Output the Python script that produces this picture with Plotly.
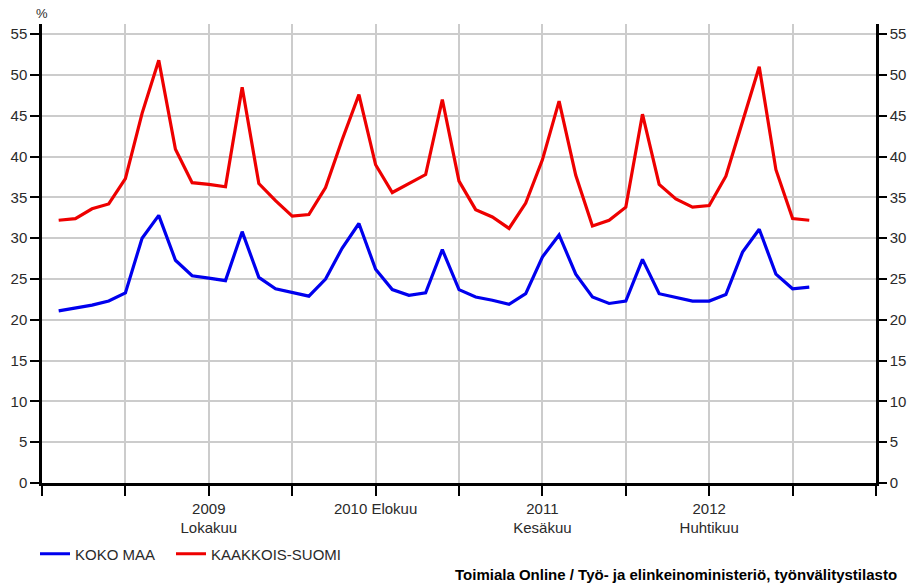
import plotly.graph_objects as go

# Months Jan 2009 .. Oct 2012 (axis slot 1..46; slot 0 = Dec 2008)
months = [f"{y}-{m:02d}" for y in range(2009, 2013) for m in range(1, 13)][:46]
month_pos = list(range(1, 47))

koko_maa = [21.1, 21.5, 21.8, 22.3, 23.3, 30.0, 32.8, 27.3, 25.4, 25.1, 24.8, 30.8,
            25.2, 23.8, 23.3, 22.9, 25.0, 28.8, 31.8, 26.2, 23.7, 23.0, 23.3, 28.6,
            23.7, 22.8, 22.4, 21.9, 23.2, 27.7, 30.4, 25.6, 22.8, 22.0, 22.3, 27.4,
            23.2, 22.7, 22.3, 22.3, 23.1, 28.3, 31.1, 25.6, 23.8, 24.0]

kaakkois_suomi = [32.2, 32.4, 33.6, 34.2, 37.3, 45.3, 51.8, 40.9, 36.8, 36.6, 36.3, 48.5,
                  36.7, 34.6, 32.7, 32.9, 36.2, 42.1, 47.6, 39.0, 35.6, 36.7, 37.8, 47.0,
                  37.0, 33.5, 32.6, 31.2, 34.3, 39.6, 46.8, 37.7, 31.5, 32.2, 33.8, 45.2,
                  36.6, 34.8, 33.8, 34.0, 37.6, 44.3, 51.0, 38.4, 32.4, 32.2]

x_tickvals = [0, 5, 10, 15, 20, 25, 30, 35, 40, 45, 50]
x_ticktext = ["", "", "2009<br>Lokakuu", "", "2010 Elokuu", "", "2011<br>Kesäkuu", "",
              "2012<br>Huhtikuu", "", ""]
y_tickvals = list(range(0, 56, 5))

FONT = "Liberation Sans, Arial, sans-serif"
TXT = "#2a2a2a"

fig = go.Figure()
fig.add_trace(go.Scatter(x=month_pos, y=koko_maa, mode="lines", name="KOKO MAA",
                         text=months, legend="legend",
                         line=dict(color="#0000ee", width=3.2)))
fig.add_trace(go.Scatter(x=month_pos, y=kaakkois_suomi, mode="lines", name="KAAKKOIS-SUOMI",
                         text=months, legend="legend2",
                         line=dict(color="#ee0000", width=3.2)))
# invisible trace to anchor right axis
fig.add_trace(go.Scatter(x=[month_pos[0]], y=[koko_maa[0]], yaxis="y2", mode="lines",
                         showlegend=False, hoverinfo="skip", line=dict(color="rgba(0,0,0,0)")))

legend_common = dict(orientation="h", xref="container", yref="container",
                     xanchor="left", y=1 - 554 / 583, yanchor="middle",
                     font=dict(size=15, color=TXT), itemwidth=30,
                     bgcolor="rgba(0,0,0,0)")

fig.update_layout(
    width=909, height=583,
    margin=dict(l=42, r=33, t=24, b=100, autoexpand=False),
    paper_bgcolor="white", plot_bgcolor="white",
    font=dict(family=FONT, size=15, color=TXT),
    showlegend=True,
    legend=dict(x=35 / 909, **legend_common),
    legend2=dict(x=171 / 909, **legend_common),
    xaxis=dict(range=[0, 50], tickmode="array", tickvals=x_tickvals, ticktext=x_ticktext,
               showgrid=True, gridcolor="#cccccc", gridwidth=1.5,
               ticks="outside", ticklen=10, tickwidth=2, tickcolor="black",
               showline=True, linecolor="black", linewidth=2.5, automargin=False,
               zeroline=False, tickfont=dict(size=15, color=TXT)),
    yaxis=dict(range=[0, 56.25], tickmode="array", tickvals=y_tickvals,
               showgrid=True, gridcolor="#cccccc", gridwidth=1.5,
               ticks="outside", ticklen=9, tickwidth=1.5, tickcolor="black",
               showline=True, linecolor="black", linewidth=2.5, automargin=False,
               zeroline=False, tickfont=dict(size=15, color=TXT)),
    yaxis2=dict(range=[0, 56.25], tickmode="array", tickvals=y_tickvals,
                overlaying="y", side="right", showgrid=False,
                ticks="outside", ticklen=8, tickwidth=1.5, tickcolor="black",
                showline=True, linecolor="black", linewidth=2.5, automargin=False,
                zeroline=False, tickfont=dict(size=15, color=TXT)),
    annotations=[
        dict(text="%", xref="paper", yref="paper", x=0, y=1.0, xanchor="center",
             yanchor="bottom", yshift=1, showarrow=False, font=dict(size=13, color=TXT)),
        dict(text="<b>Toimiala Online / Työ- ja elinkeinoministeriö, työnvälitystilasto</b>",
             xref="paper", yref="paper", x=1.028, y=-0.2, xanchor="right", yanchor="middle",
             showarrow=False, font=dict(size=15, color="black")),
    ],
)

fig.write_html("out.html", config={"displayModeBar": False},
               post_script="document.body.style.margin='0';document.body.style.overflow='hidden';")
